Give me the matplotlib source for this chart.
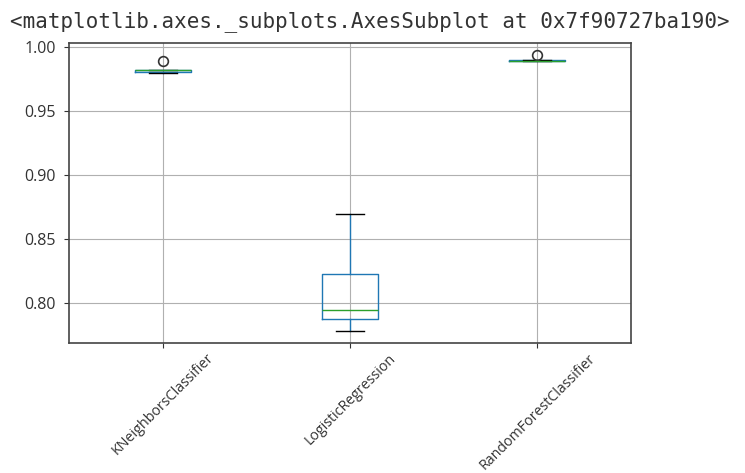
import numpy as np
import pandas as pd
import matplotlib
matplotlib.use("Agg")
import matplotlib.pyplot as plt

# cross-validation scores (5 folds per model)
models = ["KNeighborsClassifier", "LogisticRegression", "RandomForestClassifier"]
knn_scores = [0.9795, 0.9805, 0.9815, 0.9819, 0.9890]
lr_scores = [0.7778, 0.7869, 0.7945, 0.8226, 0.8690]
rf_scores = [0.9884, 0.9888, 0.9890, 0.9893, 0.9935]
y_ticks = [0.80, 0.85, 0.90, 0.95, 1.00]
header = "<matplotlib.axes._subplots.AxesSubplot at 0x7f90727ba190>"

plt.rcParams["font.family"] = ["Open Sans", "DejaVu Sans"]

df = pd.DataFrame(dict(zip(models, [knn_scores, lr_scores, rf_scores])))

fig = plt.figure(figsize=(7.45, 4.73), dpi=100)
ax = fig.add_axes([69 / 745, 1 - 343 / 473, (631 - 69) / 745, (343 - 42.7) / 473])

df.boxplot(ax=ax, rot=45, fontsize=11.5,
           flierprops=dict(marker="o", markersize=7, markerfacecolor="none",
                           markeredgecolor="#333333", markeredgewidth=1.2))

ax.set_ylim(0.7685, 1.003)
ax.set_yticks(y_ticks)
ax.set_yticklabels([f"{v:.2f}" for v in y_ticks])
for s in ax.spines.values():
    s.set_color("#444444")
    s.set_linewidth(1.2)
ax.tick_params(colors="#333333", labelcolor="#333333")
ax.tick_params(axis="y", pad=6)
ax.tick_params(axis="x", labelsize=10.3, pad=2)

fig.text(10 / 745, 1 - 27 / 473, header, family="DejaVu Sans Mono",
         fontsize=15, color="#333333", va="baseline", ha="left")

fig.savefig("out.png", dpi=100)
